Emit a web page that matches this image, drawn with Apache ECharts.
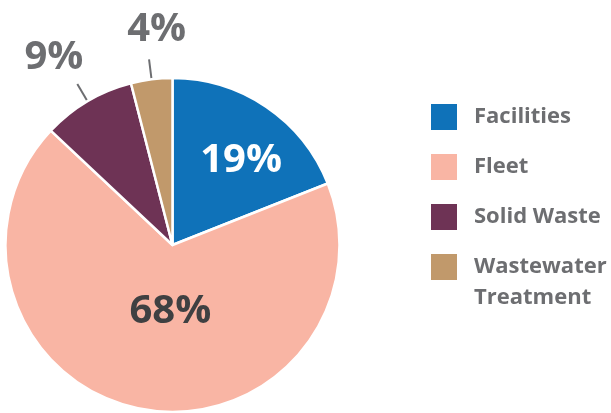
<!DOCTYPE html>
<html><head><meta charset="utf-8">
<script src="https://cdn.jsdelivr.net/npm/echarts@6/dist/echarts.min.js"></script>
<style>html,body{margin:0;padding:0;background:#fff}#c{width:611px;height:413px}</style>
</head><body><div id="c"></div>
<script>
const categories = ['Facilities', 'Fleet', 'Solid Waste', 'Wastewater Treatment'];
const values = [19, 68, 9, 4];
const colors = ['#0F72B9', '#F9B5A4', '#6E3355', '#C1996B'];
const labelColors = ['#ffffff', '#3F4042', '#6D6E71', '#6D6E71'];
const labelPositions = ['inside', 'inside', 'outside', 'outside'];
const labelShift = [[20, -13], [14, -18], [11, -26], [42, -30]];

const chart = echarts.init(document.getElementById('c'));
const FONT = '"Open Sans", sans-serif';
const legendText = { fontFamily: FONT, fontWeight: 'bold', fontSize: 22, color: '#6D6E71', lineHeight: 31, padding: [0, 0, 0, 11] };
const legendBase = {
  orient: 'vertical', left: 429, padding: 0,
  itemWidth: 28, itemHeight: 28, itemGap: 19,
  icon: 'rect', selectedMode: false, textStyle: legendText,
  formatter: n => n === 'Wastewater Treatment' ? '\nWastewater\nTreatment' : n
};
chart.setOption({
  animation: false,
  color: colors,
  legend: [
    Object.assign({}, legendBase, { top: 101.5, data: categories.slice(0, 3) }),
    Object.assign({}, legendBase, { top: 220.5, data: categories.slice(3) })
  ],
  series: [{
    type: 'pie',
    center: [172.5, 245],
    radius: [0, 167],
    startAngle: 90,
    clockwise: true,
    avoidLabelOverlap: false,
    itemStyle: { borderColor: '#fff', borderWidth: 2.5 },
    label: { fontFamily: FONT, fontWeight: 'bold', fontSize: 40, formatter: '{c}%' },
    labelLine: { length: 20, length2: 0, lineStyle: { color: '#6D6E71', width: 2 } },
    labelLayout: p => ({ dx: labelShift[p.dataIndex][0], dy: labelShift[p.dataIndex][1] }),
    data: categories.map((n, i) => ({
      name: n, value: values[i],
      label: { position: labelPositions[i], color: labelColors[i] }
    }))
  }]
});
</script></body></html>
